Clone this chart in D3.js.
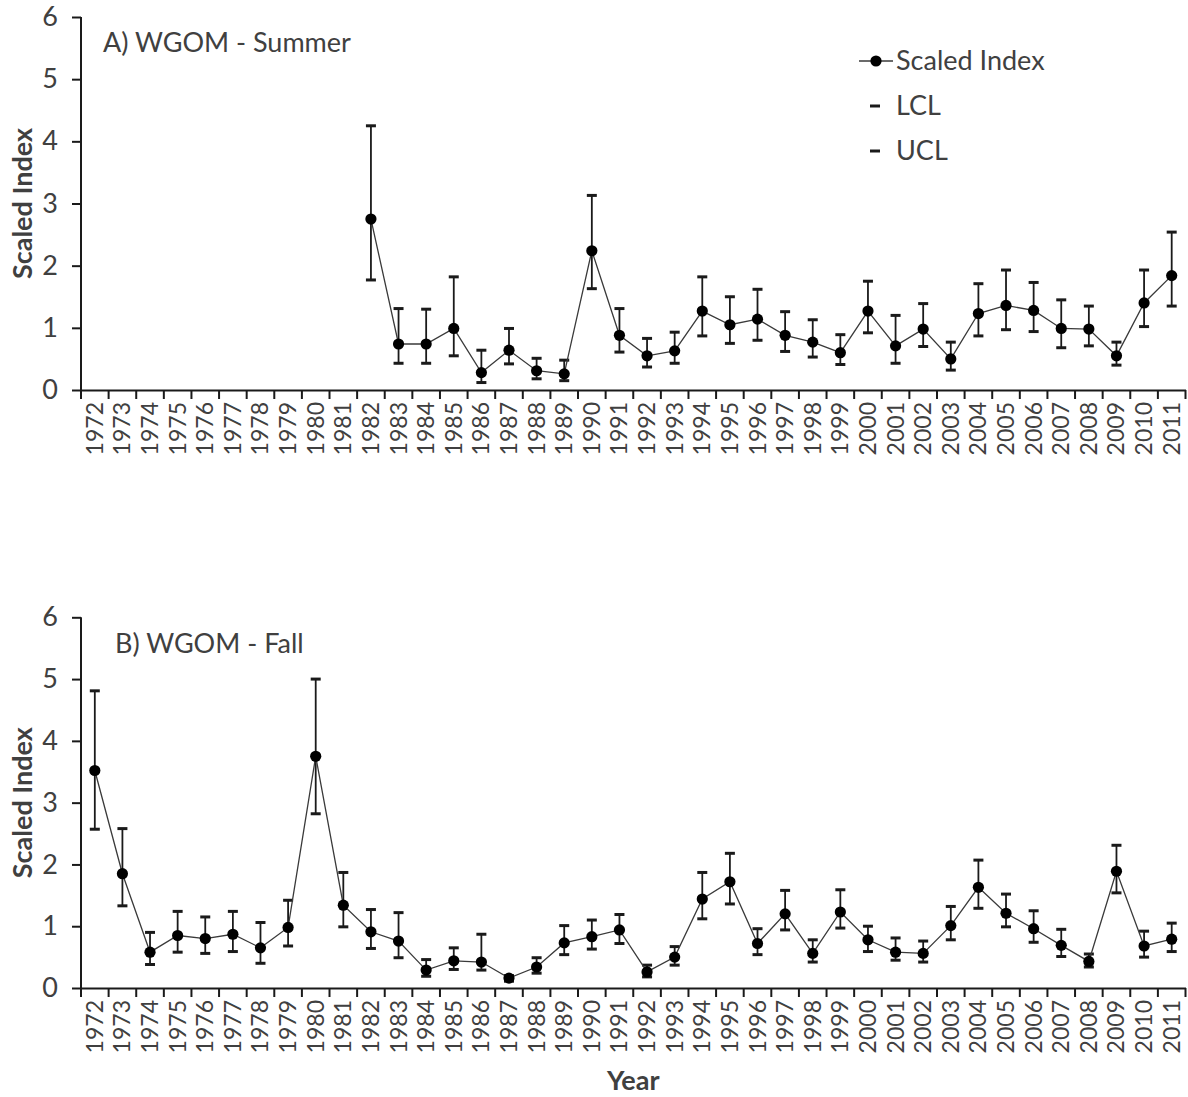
<!DOCTYPE html>
<html><head><meta charset="utf-8">
<script src="https://cdn.jsdelivr.net/npm/d3@7"></script>
<style>
html,body{margin:0;padding:0;background:#fff;}
text{font-family:Lato,"Open Sans",sans-serif;fill:#404040;}
</style></head>
<body>
<svg id="chart" width="1188" height="1097"></svg>
<script>
const years = ["1972","1973","1974","1975","1976","1977","1978","1979","1980","1981","1982","1983","1984","1985","1986","1987","1988","1989","1990","1991","1992","1993","1994","1995","1996","1997","1998","1999","2000","2001","2002","2003","2004","2005","2006","2007","2008","2009","2010","2011"];
const yTicks = [0,1,2,3,4,5,6];

const summerIndex = [null,null,null,null,null,null,null,null,null,null,
  2.75,0.74,0.74,0.99,0.28,0.64,0.31,0.26,2.24,0.88,0.55,0.63,1.27,1.05,1.14,0.88,0.77,0.60,1.27,0.71,0.98,0.50,1.23,1.36,1.28,0.99,0.98,0.55,1.40,1.84];
const summerLCL = [null,null,null,null,null,null,null,null,null,null,
  1.77,0.43,0.43,0.55,0.12,0.42,0.18,0.15,1.63,0.61,0.37,0.43,0.87,0.75,0.80,0.62,0.53,0.41,0.92,0.43,0.70,0.32,0.87,0.97,0.94,0.68,0.71,0.40,1.02,1.35];
const summerUCL = [null,null,null,null,null,null,null,null,null,null,
  4.25,1.31,1.30,1.82,0.64,0.99,0.51,0.48,3.13,1.31,0.83,0.93,1.82,1.50,1.62,1.26,1.13,0.89,1.75,1.20,1.39,0.77,1.71,1.93,1.73,1.45,1.35,0.77,1.93,2.54];

const fallIndex = [3.52,1.85,0.58,0.85,0.80,0.87,0.65,0.98,3.75,1.34,0.91,0.76,0.29,0.44,0.42,0.16,0.34,0.73,0.83,0.94,0.26,0.50,1.44,1.72,0.72,1.20,0.56,1.23,0.78,0.58,0.56,1.01,1.63,1.21,0.96,0.69,0.43,1.89,0.68,0.79];
const fallLCL = [2.57,1.33,0.38,0.58,0.56,0.59,0.40,0.68,2.82,0.99,0.64,0.49,0.19,0.30,0.29,0.11,0.24,0.54,0.63,0.72,0.18,0.37,1.12,1.36,0.54,0.94,0.42,0.97,0.59,0.45,0.42,0.78,1.29,0.99,0.74,0.51,0.34,1.54,0.50,0.59];
const fallUCL = [4.81,2.58,0.90,1.24,1.15,1.24,1.06,1.42,5.00,1.87,1.27,1.22,0.46,0.65,0.87,0.20,0.49,1.01,1.10,1.19,0.37,0.67,1.87,2.18,0.96,1.58,0.78,1.59,1.00,0.81,0.76,1.32,2.07,1.52,1.25,0.95,0.55,2.31,0.92,1.05];

const legendLabels = ["Scaled Index","LCL","UCL"];

const svg = d3.select("#chart");
const x = d3.scaleBand().domain(years).range([81, 1185.5]).paddingInner(0).paddingOuter(0);

function panel(title, idx, lcl, ucl, yBottom, yTop, titlePos){
  const y = d3.scaleLinear().domain([0,6]).range([yBottom, yTop]);
  const g = svg.append("g");
  const data = years.map((yr,i)=>({yr, v:idx[i], lo:lcl[i], hi:ucl[i]})).filter(d=>d.v!=null);

  // y axis
  const ya = g.append("g").attr("transform",`translate(${x.range()[0]},0)`)
    .call(d3.axisLeft(y).tickValues(yTicks).tickSize(9).tickPadding(14).tickFormat(d3.format("d")));
  ya.select(".domain").attr("stroke","#1a1a1a").attr("stroke-width",2).attr("d",`M0,${yTop}V${yBottom+9}`);
  ya.selectAll(".tick line").attr("stroke","#1a1a1a").attr("stroke-width",2);
  ya.selectAll(".tick text").style("font-size","27px").attr("fill","#404040");

  // x axis
  const xa = g.append("g").attr("transform",`translate(0,${yBottom})`)
    .call(d3.axisBottom(x).tickSize(0).tickPadding(12));
  xa.select(".domain").attr("stroke","#1a1a1a").attr("stroke-width",2);
  xa.selectAll(".tick text").style("font-size","23px").attr("fill","#404040")
    .attr("text-anchor","end").attr("dx",0).attr("dy",0)
    .attr("transform","translate(8,12) rotate(-90)").attr("y",0).attr("x",0);
  const bounds = years.map(d=>x(d)).concat([x.range()[1]]);
  xa.selectAll("line.bt").data(bounds).enter().append("line").attr("class","bt")
    .attr("x1",d=>d).attr("x2",d=>d).attr("y1",0).attr("y2",9)
    .attr("stroke","#1a1a1a").attr("stroke-width",2);

  const cx = d=>x(d.yr)+x.bandwidth()/2;
  // error bars
  const eb = g.append("g").selectAll("g").data(data).enter().append("g");
  eb.append("line").attr("x1",cx).attr("x2",cx).attr("y1",d=>y(d.lo)).attr("y2",d=>y(d.hi))
    .attr("stroke","#1a1a1a").attr("stroke-width",1.8);
  eb.append("line").attr("x1",d=>cx(d)-5).attr("x2",d=>cx(d)+5).attr("y1",d=>y(d.hi)).attr("y2",d=>y(d.hi))
    .attr("stroke","#1a1a1a").attr("stroke-width",3);
  eb.append("line").attr("x1",d=>cx(d)-5).attr("x2",d=>cx(d)+5).attr("y1",d=>y(d.lo)).attr("y2",d=>y(d.lo))
    .attr("stroke","#1a1a1a").attr("stroke-width",3);

  // series line
  g.append("path").datum(data).attr("fill","none").attr("stroke","#3a3a3a").attr("stroke-width",1.3)
    .attr("d", d3.line().x(cx).y(d=>y(d.v)));
  g.append("g").selectAll("circle").data(data).enter().append("circle")
    .attr("cx",cx).attr("cy",d=>y(d.v)).attr("r",5.6).attr("fill","#000");

  g.append("text").attr("x",titlePos[0]).attr("y",titlePos[1]).style("font-size","27px").text(title);

  g.append("text").attr("transform",`translate(32,${(yTop+yBottom)/2}) rotate(-90)`)
    .attr("text-anchor","middle").style("font-size","27px").style("font-weight","bold").text("Scaled Index");
}

panel("A) WGOM - Summer", summerIndex, summerLCL, summerUCL, 390, 17, [103,52]);
panel("B) WGOM - Fall", fallIndex, fallLCL, fallUCL, 988, 617.3, [115,653]);

// legend
const lg = svg.append("g");
lg.append("line").attr("x1",859).attr("x2",893).attr("y1",61).attr("y2",61).attr("stroke","#3a3a3a").attr("stroke-width",1.3);
lg.append("circle").attr("cx",876).attr("cy",61).attr("r",5.6).attr("fill","#000");
lg.append("line").attr("x1",870).attr("x2",880).attr("y1",106).attr("y2",106).attr("stroke","#1a1a1a").attr("stroke-width",3);
lg.append("line").attr("x1",870).attr("x2",880).attr("y1",151).attr("y2",151).attr("stroke","#1a1a1a").attr("stroke-width",3);
lg.selectAll("text").data(legendLabels).enter().append("text")
  .attr("x",896).attr("y",(d,i)=>70+i*45).style("font-size","27px").text(d=>d);

svg.append("text").attr("x",(x.range()[0]+x.range()[1])/2).attr("y",1090).attr("text-anchor","middle")
  .style("font-size","27px").style("font-weight","bold").text("Year");
</script>
</body></html>
